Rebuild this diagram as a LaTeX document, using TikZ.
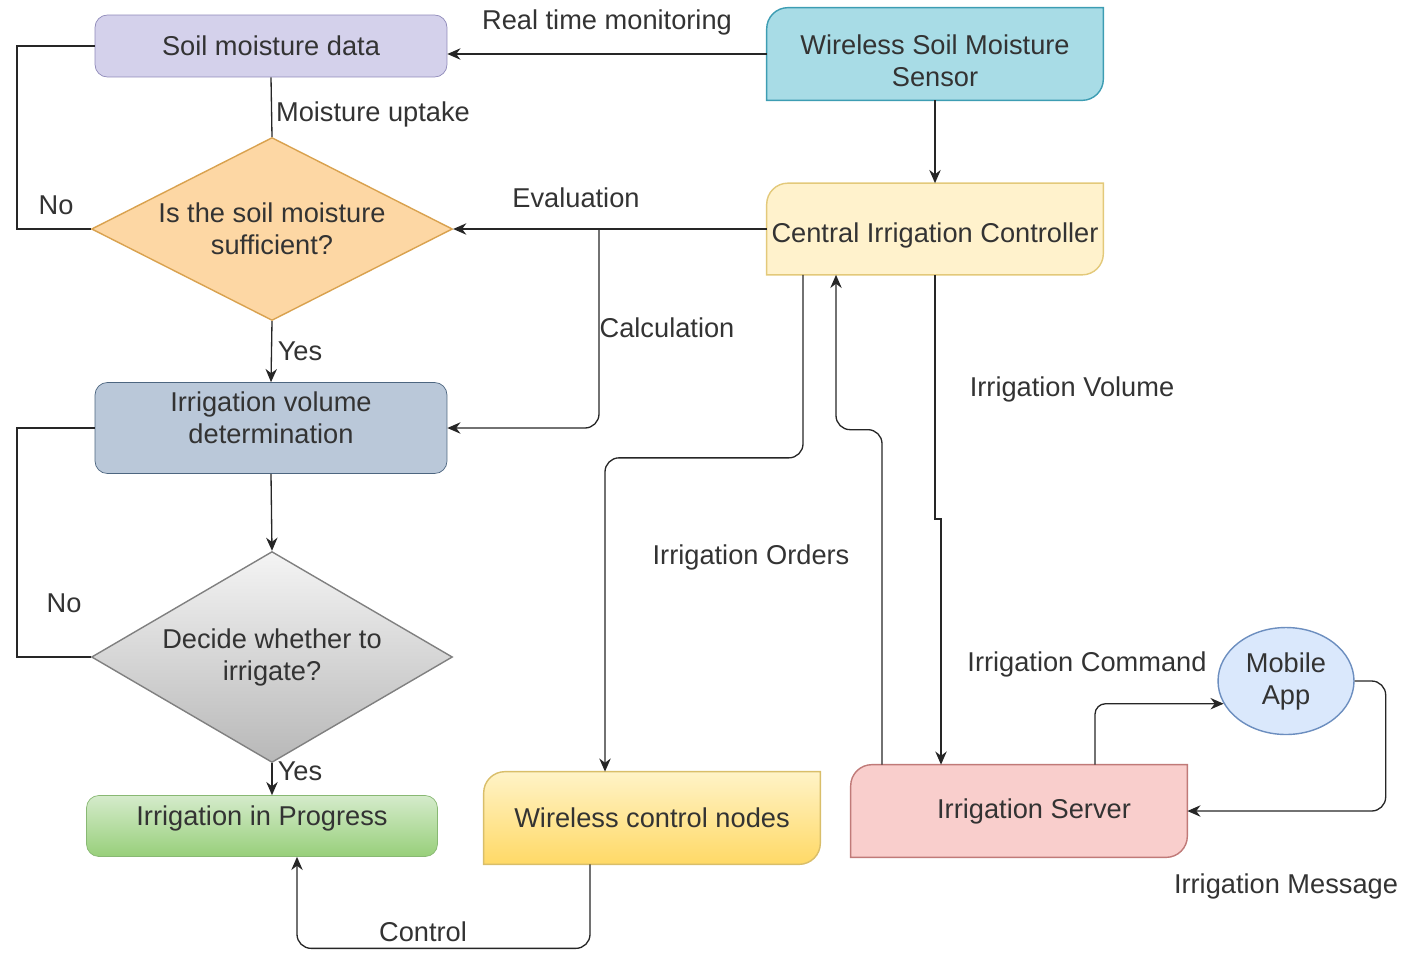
\documentclass[tikz,border=0pt]{standalone}
\usepackage{fontspec}
\setmainfont{Liberation Sans}
\usetikzlibrary{
  arrows.meta,      % Stealth 箭头
  calc,             % 坐标计算
  shapes.geometric, % 菱形与椭圆
  backgrounds       % 底层填充
}

% 颜色
\definecolor{soilfill}{HTML}{D4D1EB}
\definecolor{soilline}{HTML}{8E89B8}
\definecolor{sensorfill}{HTML}{A8DCE6}
\definecolor{sensorline}{HTML}{3D9DB3}
\definecolor{ctrlfill}{HTML}{FFF2CC}
\definecolor{ctrlline}{HTML}{E3C97A}
\definecolor{dOnefill}{HTML}{FDD7A4}
\definecolor{dOneline}{HTML}{D9A24F}
\definecolor{volfill}{HTML}{BAC8D9}
\definecolor{volline}{HTML}{4D6680}
\definecolor{dTwotop}{HTML}{F4F4F4}
\definecolor{dTwobot}{HTML}{B8B8B8}
\definecolor{dTwoline}{HTML}{808080}
\definecolor{progtop}{HTML}{D5EBCB}
\definecolor{progbot}{HTML}{97CF7A}
\definecolor{progline}{HTML}{88B873}
\definecolor{wcntop}{HTML}{FFF3C7}
\definecolor{wcnbot}{HTML}{FFD966}
\definecolor{wcnline}{HTML}{D9BE6A}
\definecolor{srvfill}{HTML}{F9CECC}
\definecolor{srvline}{HTML}{C07A78}
\definecolor{appfill}{HTML}{DAE8FC}
\definecolor{appline}{HTML}{6C8EBF}
\definecolor{linegray}{HTML}{262626}
\definecolor{txtgray}{HTML}{333333}

% 文字上下微调
\newcommand{\padtop}{\rule{0pt}{19pt}}
\newcommand{\padbot}{\rule[-12pt]{0pt}{12pt}}

% 左上、右下圆角的方框：名称, 位置, 尺寸, 填充, 文字
\newcommand{\cutnode}[5]{%
  \node[boxtext, #3] (#1) at #2 {#5};
  \begin{scope}[on background layer]
    \path[#4] (#1.south west) -- ([yshift=-12pt]#1.north west)
      .. controls ([yshift=-5.4pt]#1.north west) and ([xshift=5.4pt]#1.north west)
      .. ([xshift=12pt]#1.north west)
      -- (#1.north east) -- ([yshift=12pt]#1.south east)
      .. controls ([yshift=5.4pt]#1.south east) and ([xshift=-5.4pt]#1.south east)
      .. ([xshift=-12pt]#1.south east) -- cycle;
  \end{scope}}

\begin{document}
\begin{tikzpicture}[x=0.02cm, y=-0.02cm, >={Stealth[length=7.5pt,width=6.5pt]},
    every node/.style={font=\fontsize{15.5}{18.2}\selectfont, text=txtgray},
    boxtext/.style={inner sep=1pt, align=center},
    wire/.style={draw=linegray, line width=0.75pt},
    loopline/.style={draw=linegray, line width=1.5pt},
    lbl/.style={inner sep=1pt}]
    \useasboundingbox (0,0) rectangle (1402,954);

    % 方框
    \node[boxtext, draw=soilline, fill=soilfill, rounded corners=7pt,
      minimum width=7.04cm, minimum height=1.24cm] (soil) at (271,46) {Soil moisture data};
    \cutnode{sensor}{(935,54)}{minimum width=6.72cm, minimum height=1.84cm}
      {fill=sensorfill, draw=sensorline, line width=0.8pt}{\padtop Wireless Soil Moisture\\Sensor}
    \cutnode{ctrl}{(935,229)}{minimum width=6.72cm, minimum height=1.82cm}
      {fill=ctrlfill, draw=ctrlline, line width=0.8pt}{\padtop Central Irrigation Controller}
    \node[diamond, aspect=2, inner sep=0pt, align=center, draw=dOneline, fill=dOnefill,
      line width=0.8pt, minimum width=7.22cm, minimum height=3.66cm] (dOne) at (272,229)
      {Is the soil moisture\\sufficient?};
    \node[boxtext, draw=volline, fill=volfill, rounded corners=7pt,
      minimum width=7.04cm, minimum height=1.82cm] (vol) at (271,428)
      {Irrigation volume\\determination\padbot};
    \node[diamond, aspect=1.7, inner sep=0pt, align=center, draw=dTwoline,
      top color=dTwotop, bottom color=dTwobot, line width=0.8pt,
      minimum width=7.22cm, minimum height=4.22cm] (dTwo) at (272,657) {Decide whether to\\irrigate?};
    \node[boxtext, draw=progline, top color=progtop, bottom color=progbot, rounded corners=7pt,
      minimum width=7.02cm, minimum height=1.22cm] (prog) at (262,826) {Irrigation in Progress\padbot};
    \cutnode{wcn}{(652,818)}{minimum width=6.72cm, minimum height=1.84cm}
      {top color=wcntop, bottom color=wcnbot, draw=wcnline, line width=0.8pt}{Wireless control nodes}
    \cutnode{srv}{(1019,811)}{minimum width=6.72cm, minimum height=1.84cm}
      {fill=srvfill, draw=srvline, line width=0.8pt}{\hspace*{0.6cm}Irrigation Server}
    \node[ellipse, draw=appline, fill=appfill, align=center, inner sep=0pt, line width=0.8pt,
      minimum width=2.72cm, minimum height=2.14cm] (app) at (1286,681) {Mobile\\App};

    % 连线
    \draw[wire, ->] (sensor.west) -- (sensor.west -| soil.east);
    \draw[wire] (soil.south) -- (dOne.north);
    \draw[wire, ->] (sensor.south) -- (ctrl.north);
    \draw[wire, ->] (ctrl.west) -- (dOne.east);
    \coordinate (evalSplit) at (599,229);
    \draw[wire, ->, rounded corners=8pt] (evalSplit) |- (vol.east);
    \draw[loopline] (dOne.west) -- ++(-74,0) |- (soil.west);
    \draw[wire, ->] (dOne.south) -- (vol.north);
    \draw[wire, ->] (vol.south) -- (dTwo.north);
    \draw[loopline] (dTwo.west) -- ++(-74,0) |- (vol.west);
    \draw[wire, ->] (dTwo.south) -- (dTwo.south |- prog.north);
    \draw[wire, ->, rounded corners=8pt] ($(wcn.south)+(-62,0)$) -- ++(0,84) -| ($(prog.south)+(35,0)$);
    \draw[wire, ->, rounded corners=8pt] ($(ctrl.south)+(-132,0)$) -- ++(0,183) -| ($(wcn.north)+(-47,0)$);
    \draw[wire, ->, rounded corners=8pt] ($(srv.north)+(-137,0)$) -- ++(0,-335) -| ($(ctrl.south)+(-99,0)$);
    \draw[wire, ->] (ctrl.south) -- ++(0,244) -| ($(srv.north)+(-78,0)$);
    \draw[wire, ->, rounded corners=6pt] ($(srv.north)+(76,0)$) |- (app.200);
    \draw[wire, ->, rounded corners=8pt] (app.east) -- ++(31,0) |- (srv.east);

    % 标签
    \node[lbl] (lRealTime) at (607,22) {Real time monitoring};
    \node[lbl] (lUptake) at (373,114) {Moisture uptake};
    \node[lbl] (lEval) at (576,198) {Evaluation};
    \node[lbl] (lCalc) at (667,328) {Calculation};
    \node[lbl] (lNoOne) at (56,205) {No};
    \node[lbl] (lYesOne) at (300,351) {Yes};
    \node[lbl] (lNoTwo) at (64,603) {No};
    \node[lbl] (lYesTwo) at (300,771) {Yes};
    \node[lbl] (lControl) at (423,932) {Control};
    \node[lbl] (lOrders) at (751,557) {Irrigation Orders};
    \node[lbl] (lVolume) at (1072,389) {Irrigation Volume};
    \node[lbl] (lCommand) at (1087,664) {Irrigation Command};
    \node[lbl] (lMessage) at (1286,886) {Irrigation Message};
  \end{tikzpicture}
\end{document}
